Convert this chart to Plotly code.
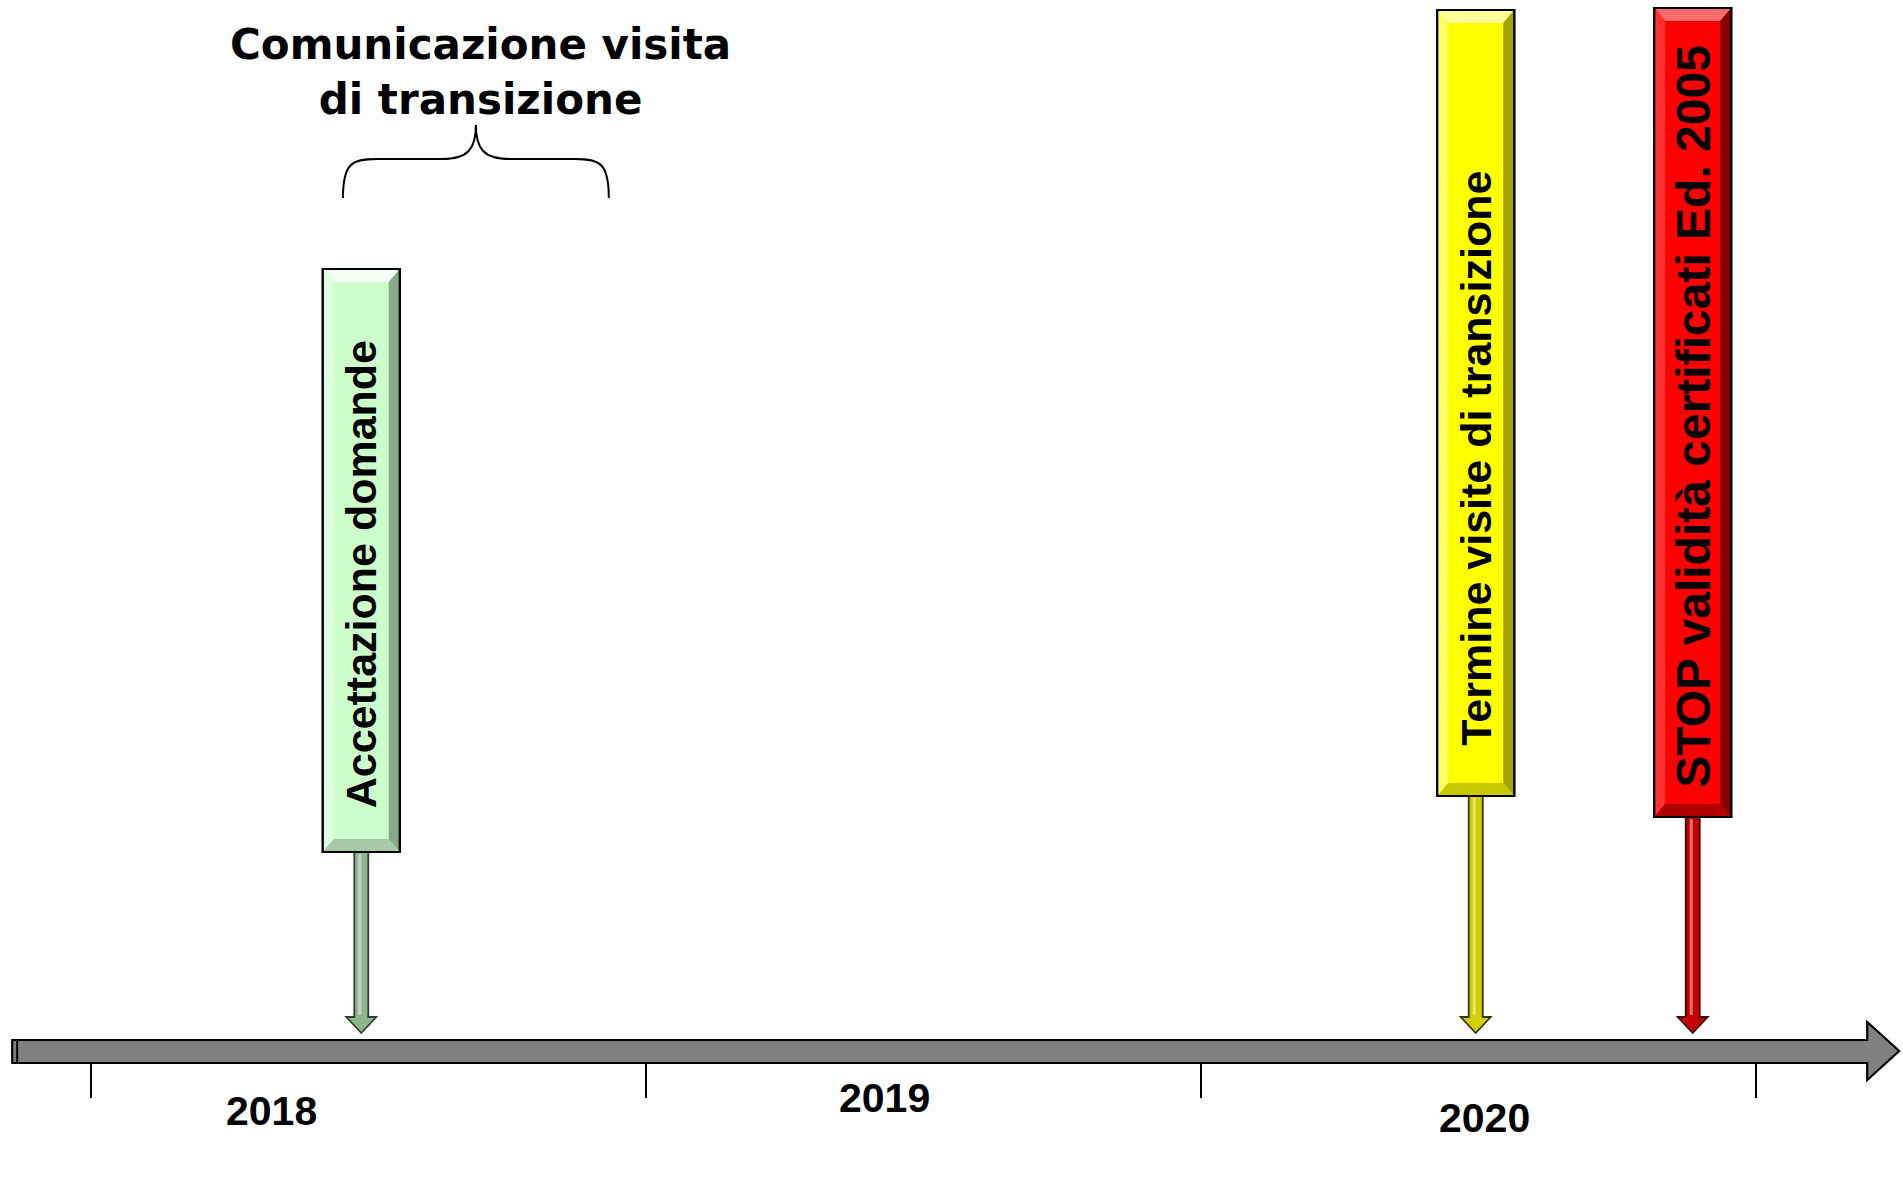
import plotly.graph_objects as go

# ---------------- data ----------------
tick_years = [2018, 2019, 2020, 2021]
year_labels = ["2018", "2019", "2020"]
year_label_x = [2018.326, 2019.429, 2020.51]
year_label_y = [-60, -47, -67]

events = ["Accettazione domande", "Termine visite di transizione",
          "STOP validità certificati Ed. 2005"]
event_dates = [2018.487, 2020.495, 2020.886]
box_top = [782, 1041, 1043]
box_bottom = [199, 255, 234]
label_y = [477, 593, 635]

brace_start = 2018.454
brace_end = 2018.933
brace_label = "Comunicazione visita<br>di transizione"

timeline_start = 2017.858
timeline_end = 2021.258

# ---------------- styles ----------------
W, H = 1903, 1188
PXY = 555.0                     # pixels per year
X0 = 2018 - 91 / PXY
X1 = X0 + W / PXY
Y0, Y1 = -137, 1051             # 1 unit = 1 px
label_sizes = [43, 43, 48]


def px(n):
    return n / PXY


palette = [
    dict(base="#ccffcc", top="#f2fff2", left="#e0ffe0", right="#86aa86", bottom="#a6c8a6",
         stem="#90b490", stem_line="#2c442c"),
    dict(base="#ffff00", top="#ffff99", left="#ffff66", right="#a3a300", bottom="#c8c800",
         stem="#d0d000", stem_line="#333300"),
    dict(base="#ff0000", top="#ff6a6a", left="#ff3030", right="#870000", bottom="#b00000",
         stem="#c40000", stem_line="#3c0000"),
]


def poly(pts):
    return "M " + " L ".join(f"{x},{y}" for x, y in pts) + " Z"


shapes = []
annotations = []

# timeline arrow
he = timeline_end - px(32)
shapes.append(dict(type="path", xref="x", yref="y",
                   path=poly([(timeline_start, 11), (he, 11), (he, 29), (timeline_end, 0),
                              (he, -29), (he, -12), (timeline_start, -12)]),
                   fillcolor="#808080", line=dict(color="black", width=2.2)))
shapes.append(dict(type="line", xref="x", yref="y",
                   x0=timeline_start + px(5), x1=timeline_start + px(5), y0=11, y1=-12,
                   line=dict(color="black", width=2)))

# events
hw = px(38.5)
bx, by = px(11), 13
for name, xc, top, bot, ly, pal, fs in zip(events, event_dates, box_top, box_bottom, label_y,
                                           palette, label_sizes):
    L, R, T, B = xc - hw, xc + hw, top, bot
    # stem + head
    sw, hhw, tip, hl = px(7), px(15), 18, 16
    shapes.append(dict(type="path", xref="x", yref="y",
                       path=poly([(xc - sw, B), (xc + sw, B), (xc + sw, tip + hl), (xc + hhw, tip + hl),
                                  (xc, tip), (xc - hhw, tip + hl), (xc - sw, tip + hl)]),
                       fillcolor=pal["stem"], line=dict(color=pal["stem_line"], width=1.8)))
    shapes.append(dict(type="line", xref="x", yref="y", x0=xc - px(1.5), x1=xc - px(1.5),
                       y0=B - 2, y1=tip + hl + 2, line=dict(color="rgba(255,255,255,0.45)", width=3)))
    # box with bevel
    shapes.append(dict(type="rect", xref="x", yref="y", x0=L, x1=R, y0=B, y1=T,
                       fillcolor=pal["base"], line=dict(color="black", width=2.2)))
    shapes.append(dict(type="path", xref="x", yref="y", line=dict(width=0),
                       path=poly([(L, T), (R, T), (R - bx, T - by), (L + bx, T - by)]),
                       fillcolor=pal["top"]))
    shapes.append(dict(type="path", xref="x", yref="y", line=dict(width=0),
                       path=poly([(L, T), (L + bx, T - by), (L + bx, B + by), (L, B)]),
                       fillcolor=pal["left"]))
    shapes.append(dict(type="path", xref="x", yref="y", line=dict(width=0),
                       path=poly([(R, T), (R - bx, T - by), (R - bx, B + by), (R, B)]),
                       fillcolor=pal["right"]))
    shapes.append(dict(type="path", xref="x", yref="y", line=dict(width=0),
                       path=poly([(L, B), (L + bx, B + by), (R - bx, B + by), (R, B)]),
                       fillcolor=pal["bottom"]))
    shapes.append(dict(type="rect", xref="x", yref="y", x0=L, x1=R, y0=B, y1=T,
                       fillcolor="rgba(0,0,0,0)", line=dict(color="black", width=2.2)))
    annotations.append(dict(x=xc, y=ly, xref="x", yref="y", text=name, showarrow=False,
                            textangle=-90, xanchor="center", yanchor="middle",
                            font=dict(family="Liberation Sans Narrow, Arial Narrow, Liberation Sans, Arial",
                                      size=fs, color="black", weight="bold")))

# brace
mid = (brace_start + brace_end) / 2
yb, yh, yp = 853, 892, 926
r = px(34)
shapes.append(dict(type="path", xref="x", yref="y", line=dict(color="black", width=2),
                   path=(f"M {brace_start},{yb} C {brace_start},{yh - 5} {brace_start + px(8)},{yh} {brace_start + r},{yh} "
                         f"L {mid - r},{yh} C {mid - px(8)},{yh} {mid},{yh + 10} {mid},{yp} "
                         f"C {mid},{yh + 10} {mid + px(8)},{yh} {mid + r},{yh} "
                         f"L {brace_end - r},{yh} C {brace_end - px(8)},{yh} {brace_end},{yh - 5} {brace_end},{yb}")))
annotations.append(dict(x=mid + px(5), y=979, xref="x", yref="y", text=brace_label, showarrow=False,
                        xanchor="center", yanchor="middle",
                        font=dict(family="Verdana, DejaVu Sans", size=42, color="black", weight="bold")))

# year labels
for t, x, y in zip(year_labels, year_label_x, year_label_y):
    annotations.append(dict(x=x, y=y, xref="x", yref="y", text=t, showarrow=False,
                            xanchor="center", yanchor="middle",
                            font=dict(family="Liberation Sans, Arial", size=41, color="black", weight="bold")))

fig = go.Figure()
fig.add_trace(go.Scatter(x=event_dates, y=[0, 0, 0], mode="markers",
                         marker=dict(opacity=0), hoverinfo="skip", showlegend=False))
fig.update_layout(
    width=W, height=H, margin=dict(l=0, r=0, t=0, b=0),
    paper_bgcolor="white", plot_bgcolor="white",
    shapes=shapes, annotations=annotations, showlegend=False,
    xaxis=dict(range=[X0, X1], anchor="free", position=(H - 1063) / H, side="bottom",
               tickvals=tick_years, ticks="outside", ticklen=34, tickwidth=2.2, tickcolor="black",
               showticklabels=False, showgrid=False, zeroline=False, showline=False, fixedrange=True),
    yaxis=dict(range=[Y0, Y1], visible=False, showgrid=False, zeroline=False, fixedrange=True),
)
fig.write_html("out.html")
